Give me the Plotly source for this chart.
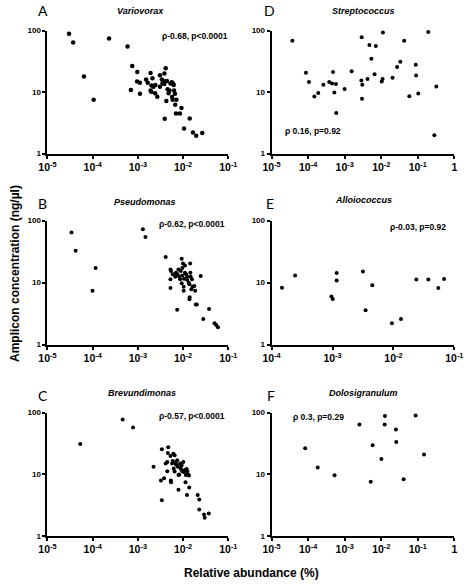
import plotly.graph_objects as go

# ---------------- data ----------------
A_x = [3.0e-5, 3.7e-5, 6.4e-5, 1.05e-4, 2.3e-4, 5.9e-4, 7.0e-4, 7.5e-4, 9.7e-4, 9.6e-4,
       1.11e-3, 1.11e-3, 1.52e-3, 1.65e-3, 1.91e-3, 2.10e-3, 2.0e-3, 2.21e-3, 1.91e-3, 1.97e-3,
       2.40e-3, 2.69e-3, 2.44e-3, 3.07e-3, 3.38e-3, 3.50e-3, 3.73e-3, 3.86e-3, 4.12e-3, 3.86e-3,
       4.40e-3, 3.07e-3, 4.54e-3, 4.77e-3, 4.26e-3, 3.92e-3, 5.0e-3, 5.26e-3, 5.62e-3, 6.0e-3,
       6.2e-3, 5.7e-3, 5.9e-3, 6.3e-3, 6.6e-3, 7.1e-3, 6.7e-3, 6.95e-3, 8.5e-3, 9.2e-3,
       1.40e-2, 1.05e-2, 1.65e-2, 1.95e-2, 2.65e-2]
A_y = [88.5, 64, 17.9, 7.5, 74.6, 55, 10.8, 26.7, 21.2, 14.9,
       14.2, 9.4, 16.0, 14.2, 20.4, 16.8, 12.8, 12.2, 10.6, 10.1,
       9.6, 8.4, 13.0, 18.8, 16.0, 13.8, 15.2, 13.5, 24.5, 20.0,
       15.2, 12.2, 11.1, 9.6, 7.2, 3.7, 10.6, 13.8, 14.5, 13.8,
       13.0, 8.3, 7.5, 10.6, 9.4, 7.5, 6.25, 4.5, 4.5, 5.5,
       3.74, 2.56, 2.2, 1.96, 2.16]

B_x = [3.4e-5, 4.2e-5, 1.16e-4, 9.9e-5, 1.29e-3, 1.47e-3, 4.12e-3,
       5.26e-3, 5.4e-3, 5.26e-3, 5.26e-3, 5.9e-3, 6.7e-3, 6.95e-3, 7.5e-3, 7.9e-3, 8.9e-3,
       8.2e-3, 8.6e-3, 9.6e-3, 9.3e-3, 1.05e-2, 1.10e-2, 1.17e-2, 1.23e-2, 9.6e-3, 9.3e-3,
       9.95e-3, 1.10e-2, 1.03e-2, 1.03e-2, 1.23e-2, 1.34e-2, 1.38e-2, 1.45e-2, 1.43e-2, 1.47e-2,
       1.57e-2, 1.52e-2, 1.40e-2, 1.38e-2, 1.63e-2, 1.77e-2, 1.85e-2, 1.91e-2, 2.01e-2, 2.45e-2,
       7.4e-3, 3.75e-2, 2.79e-2, 4.95e-2, 5.4e-2, 5.9e-2]
B_y = [64.4, 32.8, 17.3, 7.4, 72.8, 54.2, 26.0,
       16.3, 15.4, 11.3, 8.2, 13.6, 12.5, 14.4, 13.6, 16.3, 15.4,
       12.5, 11.3, 13.1, 9.75, 11.6, 14.4, 13.6, 12.5, 17.3, 24.2,
       20.4, 18.9, 8.6, 7.4, 11.0, 10.0, 9.4, 14.4, 20.4, 12.5,
       11.3, 7.8, 5.8, 5.4, 8.6, 8.8, 7.4, 4.45, 4.45, 12.8,
       3.66, 3.75, 2.6, 2.22, 2.08, 1.91]

C_x = [5.3e-5, 4.6e-4, 7.8e-4, 2.22e-3, 3.39e-3, 3.23e-3, 3.39e-3, 3.8e-3, 4.12e-3,
       4.47e-3, 4.69e-3, 4.61e-3, 4.47e-3, 5.26e-3, 5.35e-3, 5.43e-3, 6.08e-3, 6.5e-3, 5.7e-3,
       5.89e-3, 6.2e-3, 6.71e-3, 6.93e-3, 7.28e-3, 6.5e-3, 7.4e-3, 7.64e-3, 7.9e-3, 7.9e-3,
       8.2e-3, 8.6e-3, 8.7e-3, 9.0e-3, 9.3e-3, 9.6e-3, 1.01e-2, 1.06e-2, 1.09e-2, 1.13e-2,
       1.15e-2, 1.2e-2, 1.24e-2, 1.29e-2, 1.35e-2, 1.37e-2, 1.22e-2, 2.1e-2, 2.28e-2, 2.28e-2,
       2.9e-2, 3.0e-2, 3.7e-2]
C_y = [30.8, 77.3, 57.5, 13.2, 25.3, 7.9, 3.77, 8.6, 14.9,
       15.8, 27.5, 22.1, 11.2, 19.8, 7.9, 7.4, 21.5, 20.3, 14.9,
       16.3, 12.4, 14.9, 15.8, 14.0, 11.0, 16.9, 13.2, 5.6, 9.7,
       9.9, 14.9, 12.7, 12.1, 14.0, 11.2, 15.8, 10.7, 11.7, 7.4,
       9.7, 12.1, 11.2, 9.9, 9.5, 6.1, 4.6, 4.6, 3.87, 2.67,
       2.22, 1.96, 2.3]

D_x = [3.7e-5, 8.7e-5, 1.05e-4, 1.48e-4, 1.89e-4, 2.61e-4, 3.77e-4, 4.52e-4, 4.8e-4, 5.2e-4,
       5.77e-4, 5.88e-4, 9.95e-4, 1.55e-3, 2.92e-3, 2.86e-3, 3.03e-3, 2.98e-3, 4.2e-3, 4.74e-3,
       5.36e-3, 6.56e-3, 7.1e-3, 1.03e-2, 1.09e-2, 1.11e-2, 2.04e-2, 2.71e-2, 3.32e-2, 4.24e-2,
       5.86e-2, 8.8e-2, 8.97e-2, 0.103, 0.194, 0.284, 0.321]
D_y = [68.3, 20.7, 14.6, 8.5, 9.7, 13.2, 14.6, 13.8, 21.3, 9.9,
       13.6, 4.6, 11.2, 21.8, 78.2, 15.5, 13.2, 7.8, 16.4, 58.2,
       34.8, 19.5, 56.1, 14.9, 16.3, 92.9, 17.1, 25.6, 31.1, 68.3,
       8.6, 27.9, 18.6, 9.5, 95, 1.99, 12.4]

E_x = [1.48e-4, 2.43e-4, 9.6e-4, 1.01e-3, 1.17e-3, 1.17e-3, 3.16e-3, 3.49e-3, 4.5e-3,
       9.46e-3, 1.33e-2, 2.38e-2, 3.74e-2, 5.45e-2, 6.78e-2]
E_y = [8.3, 13.0, 5.96, 5.46, 14.3, 10.8, 15.1, 3.6, 9.1,
       2.21, 2.6, 11.2, 11.2, 8.2, 11.4]

F_x = [8.3e-5, 1.83e-4, 5.28e-4, 2.53e-3, 5.15e-3, 5.82e-3, 1.01e-2, 1.26e-2, 1.24e-2,
       2.52e-2, 2.57e-2, 4.1e-2, 8.7e-2, 0.148]
F_y = [26.4, 12.8, 9.6, 64.4, 7.5, 29.4, 17.7, 88.5, 64.4,
       53, 33.3, 8.3, 89.6, 20.9]

letters = ["A", "D", "B", "E", "C", "F"]
titles = ["Variovorax", "Streptococcus", "Pseudomonas", "Alloiococcus", "Brevundimonas", "Dolosigranulum"]
stats = ["ρ-0.68, p<0.0001", "ρ 0.16, p=0.92", "ρ-0.62, p<0.0001",
         "ρ-0.03, p=0.92", "ρ-0.57, p<0.0001", "ρ 0.3, p=0.29"]
x_ranges = [(-5, -1), (-5, 0), (-5, -1), (-4, -1), (-5, -1), (-5, 0)]
y_tick_vals = [1, 10, 100]
y_tick_text = ["1", "10", "100"]
x_axis_title = "Relative abundance (%)"
y_axis_title = "Amplicon concentration (ng/µl)"

data = [(A_x, A_y), (D_x, D_y), (B_x, B_y), (E_x, E_y), (C_x, C_y), (F_x, F_y)]

# ---------------- layout geometry (pixels) ----------------
W, H = 472, 586
col_px = [(40, 228), (273, 463)]
row_px = [(27, 152), (220, 346), (415, 540)]
letter_pos = [(35, 7), (271, 7), (35, 203), (271, 203), (35, 398), (272, 398)]
title_pos = [(137, 7), (369, 7), (141, 201), (369, 199), (138, 395), (369, 395)]
stat_pos = [(230, 32, "right"), (285, 129, "left"), (227, 223, "right"),
            (456, 226, "right"), (227, 418, "right"), (293, 419, "left")]

def px(x):
    return x / W

def py(y):
    return 1 - y / H

def xticks(lo, hi):
    vals, txt = [], []
    for e in range(lo, hi + 1):
        vals.append(10.0 ** e)
        txt.append("<b>1</b>" if e == 0 else "<b>10<sup>%d</sup></b>" % e)
    return vals, txt

fig = go.Figure()
annotations = []
tick_font = dict(family="Liberation Sans, Arial, sans-serif", color="black")

for i, ((xs, ys), (lo, hi)) in enumerate(zip(data, x_ranges)):
    n = i + 1
    sfx = "" if n == 1 else str(n)
    col = i % 2
    row = i // 2
    fig.add_trace(go.Scatter(
        x=xs, y=ys, mode="markers",
        marker=dict(color="black", size=4.5 if i == 0 else 4),
        xaxis="x" + sfx, yaxis="y" + sfx, cliponaxis=False, hoverinfo="x+y"))
    tv, tt = xticks(lo, hi)
    x0, x1 = col_px[col]
    y0, y1 = row_px[row]
    fig.layout["xaxis" + sfx] = dict(
        type="log", range=[lo, hi], domain=[px(x0), px(x1)], anchor="y" + sfx,
        tickvals=tv, ticktext=tt, ticks="outside", ticklen=3, tickwidth=1.5,
        tickcolor="black", showline=True, linecolor="black", linewidth=2,
        showgrid=False, zeroline=False, tickfont=dict(size=10.5, **tick_font))
    fig.layout["yaxis" + sfx] = dict(
        type="log", range=[0, 2], domain=[py(y1), py(y0)], anchor="x" + sfx,
        tickvals=y_tick_vals, ticktext=["<b>%s</b>" % t for t in y_tick_text],
        ticks="outside", ticklen=3, tickwidth=1.5, tickcolor="black",
        showline=True, linecolor="black", linewidth=2, showgrid=False,
        zeroline=False, tickfont=dict(size=8, **tick_font))

    lx, ly = letter_pos[i]
    annotations.append(dict(x=px(lx), y=py(ly), xref="paper", yref="paper",
                            text=letters[i], showarrow=False, xanchor="center", yanchor="middle",
                            font=dict(family="Lato, sans-serif", size=14, color="black")))
    tx, ty = title_pos[i]
    annotations.append(dict(x=px(tx), y=py(ty), xref="paper", yref="paper",
                            text="<b><i>%s</i></b>" % titles[i], showarrow=False,
                            xanchor="center", yanchor="middle",
                            font=dict(family="Liberation Sans, Arial, sans-serif", size=9, color="black")))
    sx, sy, anc = stat_pos[i]
    annotations.append(dict(x=px(sx), y=py(sy), xref="paper", yref="paper",
                            text="<b>%s</b>" % stats[i], showarrow=False,
                            xanchor=anc, yanchor="middle",
                            font=dict(family="Liberation Sans, Arial, sans-serif", size=8.5, color="black")))

annotations.append(dict(x=px(7), y=py(273.5), xref="paper", yref="paper",
                        text="<b>%s</b>" % y_axis_title, textangle=-90, showarrow=False,
                        xanchor="center", yanchor="middle",
                        font=dict(family="Liberation Sans, Arial, sans-serif", size=12, color="black")))
annotations.append(dict(x=px(252.5), y=py(578), xref="paper", yref="paper",
                        text="<b>%s</b>" % x_axis_title, showarrow=False,
                        xanchor="center", yanchor="middle",
                        font=dict(family="Liberation Sans, Arial, sans-serif", size=12, color="black")))

fig.update_layout(width=W, height=H, margin=dict(l=0, r=0, t=0, b=0),
                  paper_bgcolor="white", plot_bgcolor="white", showlegend=False,
                  annotations=annotations)

fig.write_html("out.html", config={"displayModeBar": False},
               post_script="document.body.style.margin='0px';document.body.style.overflow='hidden';")
